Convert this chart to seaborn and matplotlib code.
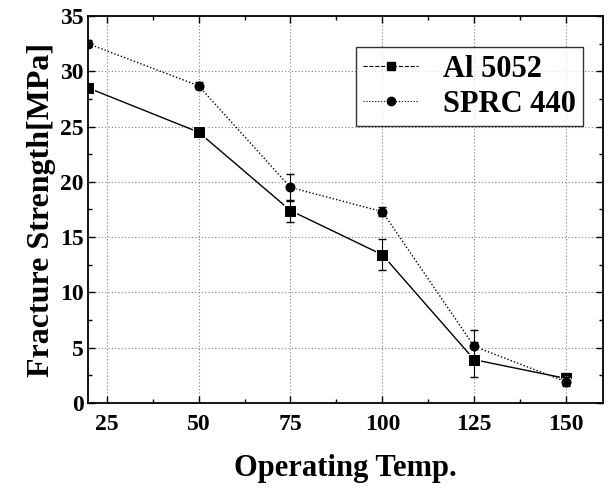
import numpy as np
import pandas as pd
import matplotlib
matplotlib.use("Agg")
import matplotlib.pyplot as plt
import seaborn as sns
from matplotlib.ticker import MultipleLocator
from matplotlib.lines import Line2D

# data
temps = [20, 50, 75, 100, 125, 150]
al_5052 = [28.5, 24.5, 17.4, 13.4, 3.9, 2.2]
al_err = [0.3, 0.3, 1.0, 1.4, 1.6, 0.5]
sprc_440 = [32.5, 28.7, 19.5, 17.3, 5.1, 1.9]
sprc_err = [0.3, 0.3, 1.2, 0.4, 1.5, 0.4]

df = pd.DataFrame({
    "temp": temps * 2,
    "strength": al_5052 + sprc_440,
    "series": ["Al 5052"] * 6 + ["SPRC 440"] * 6,
})

sns.set_style("ticks")
plt.rcParams["font.family"] = ["Liberation Serif", "DejaVu Serif"]
plt.rcParams["font.weight"] = "bold"
plt.rcParams["text.color"] = "black"
plt.rcParams["axes.labelcolor"] = "black"
plt.rcParams["xtick.color"] = "black"
plt.rcParams["ytick.color"] = "black"
plt.rcParams["axes.edgecolor"] = "black"

fig, ax = plt.subplots(figsize=(6.09, 4.9), dpi=100)
fig.subplots_adjust(left=0.145, right=0.99, top=0.967, bottom=0.178)

sns.lineplot(data=df, x="temp", y="strength", hue="series", style="series",
             markers={"Al 5052": "s", "SPRC 440": "o"},
             dashes={"Al 5052": "", "SPRC 440": (1, 1.5)},
             palette={"Al 5052": "black", "SPRC 440": "black"},
             markersize=8, linewidth=1.0, ax=ax, legend=False)

ax.errorbar(temps, al_5052, yerr=al_err, fmt="none", ecolor="black",
            elinewidth=0.8, capsize=3)
ax.errorbar(temps, sprc_440, yerr=sprc_err, fmt="none", ecolor="black",
            elinewidth=0.8, capsize=3)

ax.set_xlim(20, 160)
ax.set_ylim(0, 35)
ax.set_xticks([25, 50, 75, 100, 125, 150])
ax.xaxis.set_minor_locator(MultipleLocator(12.5))
ax.yaxis.set_major_locator(MultipleLocator(5))
ax.yaxis.set_minor_locator(MultipleLocator(2.5))
ax.tick_params(which="both", direction="in", top=True, right=True,
               labelsize=17, width=1)
ax.tick_params(which="major", length=5)
ax.tick_params(which="minor", length=3)
ax.tick_params(axis="x", which="major", pad=8)
ax.grid(True, which="major", linestyle=(0, (1, 2)), color="gray", linewidth=0.8)
for s in ax.spines.values():
    s.set_linewidth(1.3)

ax.set_xlabel("Operating Temp.", fontsize=22, fontweight="bold", labelpad=14)
ax.set_ylabel("Fracture Strength[MPa]", fontsize=23, fontweight="bold", labelpad=3)

handles = [
    Line2D([], [], color="black", marker="s", linestyle="--", linewidth=0.8, markersize=6),
    Line2D([], [], color="black", marker="o", linestyle=":", linewidth=0.8, markersize=6),
]
leg = ax.legend(handles, ["Al 5052", "SPRC 440"], loc="upper right",
                bbox_to_anchor=(0.962, 0.92), borderaxespad=0, fontsize=22,
                frameon=True, fancybox=False, edgecolor="black",
                handlelength=1.8, borderpad=0.25, labelspacing=0.2,
                handletextpad=0.8)
leg.get_frame().set_linewidth(1.0)

fig.savefig("out.png", dpi=100)
